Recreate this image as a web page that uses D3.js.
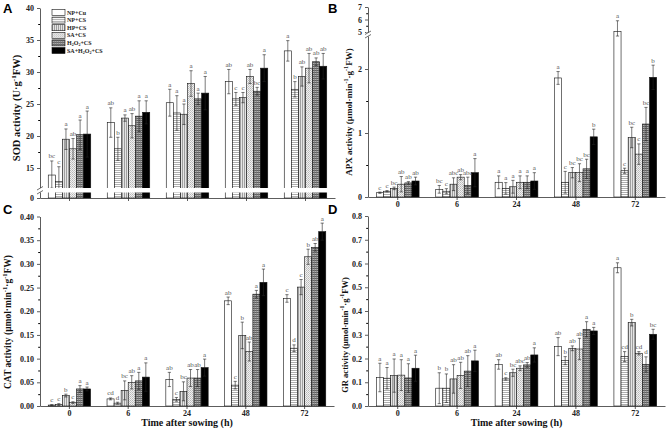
<!DOCTYPE html>
<html>
<head>
<meta charset="utf-8">
<script src="https://cdn.jsdelivr.net/npm/d3@7"></script>
<style>
  body { margin: 0; background: #fff; }
  svg { display: block; }
</style>
</head>
<body>
<div id="chart"></div>
<script>
/////////////////////////////////////////////////////////////////////////////
//// Data ///////////////////////////////////////////////////////////////////
/////////////////////////////////////////////////////////////////////////////

const width = 666,
      height = 430;

const groups = ["0", "6", "24", "48", "72"];
const treatments = ["NP+Cu", "NP+CS", "HP+CS", "SA+CS", "H2O2+CS", "SA+H2O2+CS"];

// rows = time after sowing, columns = treatments
const sodMean = [
  [13.9, 12.9, 19.5, 18.0, 20.2, 20.3],
  [22.1, 18.0, 22.8, 21.6, 23.1, 23.7],
  [25.2, 23.6, 23.4, 28.2, 25.8, 26.7],
  [28.5, 25.8, 26.0, 29.3, 27.0, 30.6],
  [33.3, 27.3, 29.3, 30.6, 31.6, 30.9]
];
const sodErr = [
  [2.2, 2.3, 1.6, 1.6, 2.3, 3.6],
  [2.3, 1.8, 0.5, 1.9, 2.4, 1.8],
  [2.1, 2.7, 1.6, 2.0, 0.9, 2.6],
  [1.9, 1.0, 0.8, 1.1, 0.6, 2.1],
  [1.6, 1.2, 1.5, 2.3, 0.6, 2.0]
];
const sodLetters = [
  ["bc", "c", "a", "ab", "a", "a"],
  ["ab", "b", "a", "ab", "a", "a"],
  ["a", "a", "a", "a", "a", "a"],
  ["ab", "c", "c", "ab", "bc", "a"],
  ["a", "b", "ab", "ab", "ab", "ab"]
];

const apxMean = [
  [0.067, 0.09, 0.135, 0.2, 0.22, 0.25],
  [0.12, 0.09, 0.2, 0.31, 0.18, 0.38],
  [0.23, 0.135, 0.16, 0.23, 0.23, 0.25],
  [1.86, 0.23, 0.38, 0.38, 0.44, 0.94],
  [5.05, 0.41, 0.93, 0.67, 1.14, 1.87]
];
const apxErr = [
  [0.01, 0.01, 0.02, 0.12, 0.02, 0.06],
  [0.06, 0.04, 0.1, 0.04, 0.13, 0.22],
  [0.1, 0.09, 0.1, 0.1, 0.1, 0.13],
  [0.1, 0.17, 0.08, 0.14, 0.15, 0.12],
  [0.85, 0.04, 0.16, 0.16, 0.26, 0.19]
];
const apxLetters = [
  ["c", "c", "bc", "ab", "ab", "ab"],
  ["bc", "c", "abc", "ab", "abc", "a"],
  ["a", "a", "a", "a", "a", "a"],
  ["a", "c", "bc", "bc", "bc", "b"],
  ["a", "c", "bc", "c", "bc", "b"]
];

const catMean = [
  [0.002, 0.003, 0.022, 0.007, 0.036, 0.036],
  [0.015, 0.006, 0.033, 0.05, 0.053, 0.061],
  [0.056, 0.014, 0.031, 0.059, 0.059, 0.081],
  [0.222, 0.044, 0.149, 0.115, 0.236, 0.261],
  [0.227, 0.122, 0.251, 0.315, 0.335, 0.368]
];
const catErr = [
  [0.001, 0.002, 0.003, 0.002, 0.007, 0.004],
  [0.002, 0.002, 0.02, 0.014, 0.018, 0.03],
  [0.015, 0.004, 0.02, 0.018, 0.018, 0.018],
  [0.008, 0.008, 0.028, 0.02, 0.008, 0.028],
  [0.008, 0.007, 0.016, 0.016, 0.008, 0.018]
];
const catLetters = [
  ["c", "c", "b", "c", "a", "a"],
  ["cd", "d", "bc", "ab", "a", "a"],
  ["ab", "c", "bc", "ab", "ab", "a"],
  ["ab", "c", "b", "ab", "a", "a"],
  ["c", "d", "c", "b", "ab", "a"]
];

const grMean = [
  [0.12, 0.117, 0.128, 0.13, 0.118, 0.159],
  [0.075, 0.075, 0.114, 0.129, 0.147, 0.19],
  [0.175, 0.114, 0.14, 0.159, 0.173, 0.215],
  [0.25, 0.191, 0.243, 0.24, 0.323, 0.316],
  [0.582, 0.208, 0.351, 0.222, 0.175, 0.302]
];
const grErr = [
  [0.06, 0.045, 0.07, 0.065, 0.06, 0.055],
  [0.065, 0.06, 0.06, 0.055, 0.065, 0.045],
  [0.02, 0.005, 0.015, 0.01, 0.01, 0.03],
  [0.038, 0.017, 0.01, 0.045, 0.032, 0.015],
  [0.021, 0.021, 0.014, 0.007, 0.032, 0.021]
];
const grLetters = [
  ["a", "a", "a", "a", "a", "a"],
  ["b", "b", "ab", "ab", "ab", "a"],
  ["ab", "c", "bc", "abc", "ab", "a"],
  ["ab", "b", "ab", "ab", "a", "a"],
  ["a", "cd", "b", "cd", "d", "bc"]
];

// tick values
const sodTicks = [0, 15, 20, 25, 30, 35, 40];
const sodMinor = [17.5, 22.5, 27.5, 32.5, 37.5];
const apxTicks = [0, 1, 2, 5, 6, 7];
const apxMinor = [0.5, 1.5, 5.5, 6.5];
const catTicks = [0, 0.05, 0.1, 0.15, 0.2, 0.25, 0.3, 0.35, 0.4];
const catMinor = [0.025, 0.075, 0.125, 0.175, 0.225, 0.275, 0.325, 0.375];
const grTicks = [0, 0.1, 0.2, 0.3, 0.4, 0.5, 0.6, 0.7, 0.8];
const grMinor = [0.05, 0.15, 0.25, 0.35, 0.45, 0.55, 0.65, 0.75];

const xTitle = "Time after sowing (h)";

/////////////////////////////////////////////////////////////////////////////
//// Set up /////////////////////////////////////////////////////////////////
/////////////////////////////////////////////////////////////////////////////

const serif = "'Liberation Serif', 'DejaVu Serif', serif";

const svg = d3.select("#chart").append("svg")
    .attr("width", width)
    .attr("height", height)
    .style("font-family", serif);

// Bar fill patterns
const defs = svg.append("defs");

function makePattern(id, w, h, bg, draw) {
  const p = defs.append("pattern")
      .attr("id", id)
      .attr("patternUnits", "userSpaceOnUse")
      .attr("width", w)
      .attr("height", h);
  p.append("rect").attr("width", w).attr("height", h).attr("fill", bg);
  draw(p);
}

makePattern("p-hline", 4, 2, "#fff", p => {
  p.append("rect").attr("x", 0).attr("y", 0).attr("width", 4).attr("height", 0.8).attr("fill", "#9a9a9a");
});
makePattern("p-vline", 2, 4, "#e4e4e4", p => {
  p.append("rect").attr("x", 0).attr("y", 0).attr("width", 0.8).attr("height", 4).attr("fill", "#8e8e8e");
});
makePattern("p-dots", 2, 2, "#f0f0f0", p => {
  p.append("rect").attr("x", 0).attr("y", 0).attr("width", 0.8).attr("height", 0.8).attr("fill", "#9a9a9a");
  p.append("rect").attr("x", 1).attr("y", 1).attr("width", 0.8).attr("height", 0.8).attr("fill", "#b5b5b5");
});
makePattern("p-grid", 2, 2, "#b0b0b0", p => {
  p.append("rect").attr("x", 0).attr("y", 0).attr("width", 2).attr("height", 0.9).attr("fill", "#555");
  p.append("rect").attr("x", 0).attr("y", 0).attr("width", 0.6).attr("height", 2).attr("fill", "#777");
});

const fills = {
  "NP+Cu": "#fff",
  "NP+CS": "url(#p-hline)",
  "HP+CS": "url(#p-vline)",
  "SA+CS": "url(#p-dots)",
  "H2O2+CS": "url(#p-grid)",
  "SA+H2O2+CS": "#000"
};

// Write text with sub/superscripts
function richText(sel, parts, size) {
  parts.forEach(part => {
    const ts = sel.append("tspan").text(part.t);
    if (part.sup) ts.attr("font-size", size * 0.68).attr("baseline-shift", size * 0.38);
    if (part.sub) ts.attr("font-size", size * 0.68).attr("baseline-shift", -size * 0.22);
  });
}

function chemParts(name) {
  // digits after H / O become subscripts
  return name.split(/(\d)/).filter(s => s !== "").map(s => /\d/.test(s) ? { t: s, sub: true } : { t: s });
}

const unitParts = (enzyme) => [
  { t: enzyme + " activity (μmol·min" }, { t: "-1", sup: true },
  { t: "·g" }, { t: "-1", sup: true }, { t: "FW)" }
];

/////////////////////////////////////////////////////////////////////////////
//// Panels /////////////////////////////////////////////////////////////////
/////////////////////////////////////////////////////////////////////////////

const panels = [
  { key: "A", mean: sodMean, err: sodErr, letters: sodLetters,
    title: [{ t: "SOD activity (U·g" }, { t: "-1", sup: true }, { t: "FW)" }],
    xRange: [40, 335],
    y: d3.scaleLinear().domain([0, 11.875, 40]).range([198, 188, 8]),
    ticks: sodTicks, minor: sodMinor, fmt: d3.format("d"),
    xLabels: false, titlePos: [18, 108], titleSize: 10.5, letterPos: [3, 13] },
  { key: "B", mean: apxMean, err: apxErr, letters: apxLetters,
    title: unitParts("APX"),
    xRange: [368, 665],
    y: d3.scaleLinear().domain([0, 2.5, 4.7, 7]).range([197, 37, 35.75, 7]),
    ticks: apxTicks, minor: apxMinor, fmt: d3.format("d"),
    xLabels: true, titlePos: [350, 112], titleSize: 9, letterPos: [328, 13] },
  { key: "C", mean: catMean, err: catErr, letters: catLetters,
    title: unitParts("CAT"),
    xRange: [40, 334],
    y: d3.scaleLinear().domain([0, 0.4]).range([406, 216.5]),
    ticks: catTicks, minor: catMinor, fmt: d3.format(".2f"),
    xLabels: true, titlePos: [9, 322], titleSize: 9.5, letterPos: [3, 214] },
  { key: "D", mean: grMean, err: grErr, letters: grLetters,
    title: unitParts("GR"),
    xRange: [368, 665],
    y: d3.scaleLinear().domain([0, 0.8]).range([406, 216]),
    ticks: grTicks, minor: grMinor, fmt: d3.format(".1f"),
    xLabels: true, titlePos: [346, 335], titleSize: 8.5, letterPos: [328, 214] }
];

panels.forEach(p => {
  const g = svg.append("g").attr("class", "panel-" + p.key);
  const y = p.y;

  const x0 = d3.scaleBand()
      .domain(groups)
      .range(p.xRange)
      .paddingInner(0.28)
      .paddingOuter(0.14);
  const x1 = d3.scaleBand()
      .domain(treatments)
      .range([0, x0.bandwidth()]);

  const rows = [];
  groups.forEach((grp, i) => {
    treatments.forEach((t, j) => {
      rows.push({ grp: grp, t: t, v: p.mean[i][j], e: p.err[i][j], l: p.letters[i][j] });
    });
  });
  const cx = d => x0(d.grp) + x1(d.t) + x1.bandwidth() / 2;

  // Bars
  g.append("g").selectAll("rect")
    .data(rows)
    .join("rect")
      .attr("x", d => x0(d.grp) + x1(d.t))
      .attr("width", x1.bandwidth())
      .attr("y", d => y(d.v))
      .attr("height", d => y(0) - y(d.v))
      .attr("fill", d => fills[d.t])
      .attr("stroke", "#111")
      .attr("stroke-width", 0.6);

  // Error bars
  const eb = g.append("g")
      .attr("stroke", "#222")
      .attr("stroke-width", 0.6)
      .attr("fill", "none");
  eb.selectAll("path")
    .data(rows)
    .join("path")
      .attr("d", d => {
        const x = cx(d), lo = y(Math.max(0, d.v - d.e)), hi = y(d.v + d.e);
        return `M${x},${lo}V${hi}M${x - 1.6},${hi}H${x + 1.6}M${x - 1.6},${lo}H${x + 1.6}`;
      });

  // Significance letters
  g.append("g").selectAll("text")
    .data(rows)
    .join("text")
      .attr("x", cx)
      .attr("y", d => y(d.v + d.e) - 2.5)
      .attr("text-anchor", "middle")
      .attr("font-size", 7)
      .attr("fill", "#555")
      .text(d => d.l);

  // Axis break for panel A: white band across the bars
  if (p.key === "A") {
    g.append("rect")
        .attr("x", 35).attr("y", 188)
        .attr("width", p.xRange[1] - 34).attr("height", 4.5)
        .attr("fill", "#fff");
  }

  // Axes
  const yAxis = g.append("g")
      .attr("transform", `translate(${p.xRange[0]},0)`)
      .call(d3.axisLeft(y).tickValues(p.ticks).tickFormat(p.fmt).tickSize(3).tickSizeOuter(0));
  g.append("g")
      .attr("transform", `translate(${p.xRange[0]},0)`)
      .call(d3.axisLeft(y).tickValues(p.minor).tickFormat("").tickSize(1.8).tickSizeOuter(0))
      .call(a => a.select(".domain").remove());

  const xAxis = g.append("g")
      .attr("transform", `translate(0,${y(0)})`)
      .call(d3.axisBottom(x0).tickSize(3).tickPadding(1.5).tickSizeOuter(0)
        .tickFormat(p.xLabels ? (d => d) : ""));

  [yAxis, xAxis].forEach(a => {
    a.selectAll("text")
        .attr("font-family", serif)
        .attr("font-weight", "bold")
        .attr("font-size", 8)
        .attr("fill", "#222");
    a.selectAll("line, path").attr("stroke", "#333").attr("stroke-width", 0.8);
  });

  // Break marks on the y axis
  if (p.key === "A" || p.key === "B") {
    const by = p.key === "A" ? 188 : 32.5;
    const bh = p.key === "A" ? 4.5 : 4;
    const ax = p.xRange[0];
    g.append("rect")
        .attr("x", ax - 2).attr("y", by)
        .attr("width", 4).attr("height", bh)
        .attr("fill", "#fff");
    g.append("path")
        .attr("d", `M${ax - 3},${by + 2}L${ax + 3},${by - 1.5}M${ax - 3},${by + bh + 1.5}L${ax + 3},${by + bh - 2}`)
        .attr("stroke", "#333")
        .attr("stroke-width", 0.7);
  }

  // Y axis title
  const tt = g.append("text")
      .attr("transform", `translate(${p.titlePos[0]},${p.titlePos[1]}) rotate(-90)`)
      .attr("text-anchor", "middle")
      .attr("dominant-baseline", "middle")
      .attr("font-weight", "bold")
      .attr("font-size", p.titleSize)
      .attr("fill", "#111");
  richText(tt, p.title, p.titleSize);

  // X axis title
  if (p.key === "C" || p.key === "D") {
    g.append("text")
        .attr("x", (p.xRange[0] + p.xRange[1]) / 2)
        .attr("y", 426)
        .attr("text-anchor", "middle")
        .attr("font-weight", "bold")
        .attr("font-size", 10)
        .attr("fill", "#111")
        .text(xTitle);
  }

  // Panel letter
  g.append("text")
      .attr("x", p.letterPos[0])
      .attr("y", p.letterPos[1])
      .attr("font-family", "'Liberation Sans', Arial, sans-serif")
      .attr("font-weight", "bold")
      .attr("font-size", 13)
      .attr("fill", "#000")
      .text(p.key);
});

/////////////////////////////////////////////////////////////////////////////
//// Legend /////////////////////////////////////////////////////////////////
/////////////////////////////////////////////////////////////////////////////

const legendRowHeight = 7.6;
const legend = svg.append("g")
    .attr("transform", "translate(52, 9.5)")
  .selectAll("g")
  .data(treatments)
  .join("g")
    .attr("transform", (d, i) => `translate(0, ${i * legendRowHeight})`);
legend.append("rect")
    .attr("width", 13)
    .attr("height", 6)
    .attr("fill", d => fills[d])
    .attr("stroke", "#111")
    .attr("stroke-width", 0.6);
legend.append("text")
    .attr("x", 15)
    .attr("y", 5)
    .attr("font-weight", "bold")
    .attr("font-size", 6)
    .attr("fill", "#222")
    .each(function(d) { richText(d3.select(this), chemParts(d), 6); });
</script>
</body>
</html>
